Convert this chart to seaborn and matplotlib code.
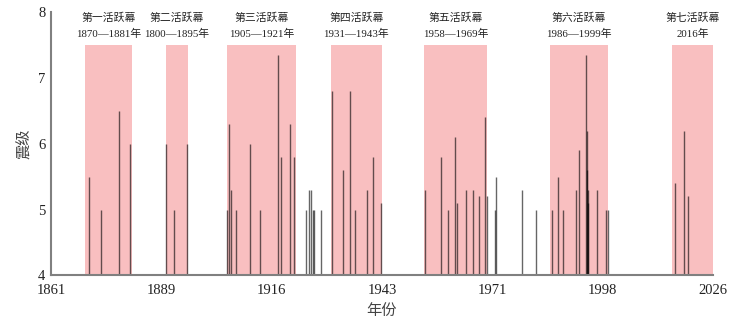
import numpy as np
import seaborn as sns
import matplotlib.pyplot as plt

# earthquake events (year, magnitude)
years = [1870.5, 1873.5, 1878.0, 1880.6, 1889.8, 1891.7, 1894.8,
         1904.95, 1905.5, 1905.9, 1907.1, 1910.7, 1913.0, 1917.5, 1918.3, 1920.6, 1921.6,
         1924.6, 1925.4, 1925.7, 1926.4, 1926.6, 1928.4,
         1931.0, 1933.8, 1935.6, 1936.9, 1939.7, 1941.2, 1943.2,
         1954.3, 1958.3, 1960.0, 1961.7, 1962.1, 1964.4, 1966.3, 1967.8, 1969.2, 1969.6,
         1971.7, 1971.9, 1978.4, 1981.9,
         1985.8, 1987.3, 1988.6, 1991.9, 1992.5, 1994.3, 1994.5, 1994.6, 1994.8, 1994.9,
         1997.2, 1999.3, 1999.8,
         2016.5, 2018.9, 2019.7]
mags = [5.5, 5.0, 6.5, 6.0, 6.0, 5.0, 6.0,
        5.0, 6.3, 5.3, 5.0, 6.0, 5.0, 7.35, 5.8, 6.3, 5.8,
        5.0, 5.3, 5.3, 5.0, 5.0, 5.0,
        6.8, 5.6, 6.8, 5.0, 5.3, 5.8, 5.1,
        5.3, 5.8, 5.0, 6.1, 5.1, 5.3, 5.3, 5.2, 6.4, 5.2,
        5.0, 5.5, 5.3, 5.0,
        5.0, 5.5, 5.0, 5.3, 5.9, 7.35, 5.6, 6.2, 5.3, 5.1,
        5.3, 5.0, 5.0,
        5.4, 6.2, 5.2]

# active periods
act_start = [1869.6, 1889.7, 1904.8, 1930.8, 1953.9, 1985.4, 2015.8]
act_end = [1881.2, 1895.1, 1922.1, 1943.4, 1969.75, 1999.9, 2026.0]
act_names = ["第一活跃幕", "第二活跃幕", "第三活跃幕", "第四活跃幕",
             "第五活跃幕", "第六活跃幕", "第七活跃幕"]
act_years = ["1870—1881年", "1800—1895年", "1905—1921年", "1931—1943年",
             "1958—1969年", "1986—1999年", "2016年"]

xtick_labels = ["1861", "1889", "1916", "1943", "1971", "1998", "2026"]

sns.set_theme(style="white")
plt.rcParams['font.family'] = ['Liberation Serif', 'Noto Sans CJK SC']

fig = plt.figure(figsize=(7.38, 3.26), dpi=100)
ax = fig.add_axes([0.069, 0.155, 0.897, 0.808])

pink = "#f9bfc0"
for x0, x1, name, yr in zip(act_start, act_end, act_names, act_years):
    ax.fill_between([x0, x1], 4, 7.5, color=pink, lw=0, zorder=1)
    xc = (x0 + x1) / 2
    ax.text(xc, 7.91, name, ha="center", va="center", fontsize=7.8, color="#222222")
    ax.text(xc, 7.67, yr, ha="center", va="center", fontsize=7.8, color="#222222")

ax.vlines(years, 4, mags, colors="black", alpha=0.6, linewidth=1.0, zorder=2)

ax.set_xlim(1861, 2026)
ax.set_ylim(4, 8)
ax.set_xticks(np.linspace(1861, 2026, 7))
ax.set_xticklabels(xtick_labels)
ax.set_yticks([4, 5, 6, 7, 8])
ax.tick_params(axis="both", direction="in", labelsize=10.5, colors="#222222")
ax.tick_params(axis="x", length=4, width=1, color="black", pad=6)
ax.tick_params(axis="y", length=3, width=1, color="#777777", pad=4)

sns.despine(ax=ax)
for side in ["left", "bottom"]:
    ax.spines[side].set_color("#808080")
    ax.spines[side].set_linewidth(1.5)

ax.set_xlabel("年份", fontsize=11, color="#444444", labelpad=5)
ax.set_ylabel("震级", fontsize=11, color="#444444", labelpad=5)

fig.savefig("out.png", dpi=100)
